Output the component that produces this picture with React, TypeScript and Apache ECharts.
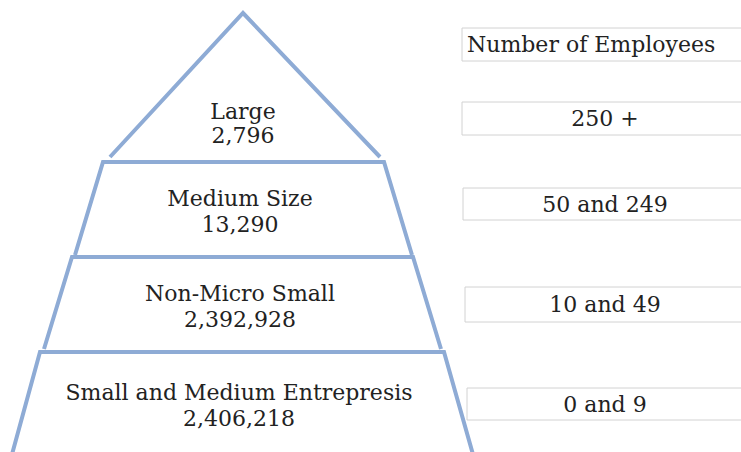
import React, { useEffect, useRef } from "react";
import * as echarts from "echarts";

// ---- data ----
const TIERS = ["Large", "Medium Size", "Non-Micro Small", "Small and Medium Entrepresis"];
const FIRM_COUNTS = [2796, 13290, 2392928, 2406218];
const RANGE_TITLE = "Number of Employees";
const EMPLOYEE_RANGES = ["250 +", "50 and 249", "10 and 49", "0 and 9"];

// ---- layout (units of the hidden 741 x 452 grid) ----
const W = 741;
const H = 452;
const TIER_OUTLINES = [
  [[110, 157], [243, 13], [380, 157]],
  [[75, 255], [103, 162], [384, 162], [412, 255]],
  [[44, 349], [72, 257], [413, 257], [441, 349]],
  [[11, 458], [40, 352], [444, 352], [474, 458]],
];
const TIER_LABEL_POS = [
  [243, 111, 135],
  [240, 198, 224],
  [240, 293, 319],
  [239, 392.5, 418],
];
const RANGE_BOXES = [
  [462, 102, 135],
  [463, 188, 220],
  [465, 287, 322],
  [467, 388, 420],
];
const RANGE_TEXT_X = 605;
const HEADER_BOX = [462, 28, 61];

const LINE = "#8eabd5";
const BOX_LINE = "#d2d2d2";
const TEXT = "#222";
const FAMILY = "DejaVu Serif";
const FS = 22;

function textEl(pt: number[], text: string, align: string = "center") {
  return {
    type: "text",
    x: pt[0],
    y: pt[1],
    style: {
      text,
      align,
      verticalAlign: "middle",
      fontFamily: FAMILY,
      fontSize: FS,
      fill: TEXT,
    },
  };
}

export default function App() {
  const ref = useRef<HTMLDivElement>(null);

  useEffect(() => {
    if (!ref.current) return;
    const chart = echarts.init(ref.current, null, { renderer: "svg" });

    const option: any = {
      animation: false,
      backgroundColor: "#ffffff",
      grid: { left: 0, right: 0, top: 0, bottom: 0 },
      xAxis: { type: "value", min: 0, max: W, show: false },
      yAxis: { type: "value", min: 0, max: H, inverse: true, show: false },
      graphic: [
        {
          type: "rect",
          shape: { x: HEADER_BOX[0], y: HEADER_BOX[1], width: W - HEADER_BOX[0] + 10, height: HEADER_BOX[2] - HEADER_BOX[1] },
          style: { fill: "#fff", stroke: BOX_LINE, lineWidth: 1 },
        },
        {
          type: "text",
          x: HEADER_BOX[0] + 5,
          y: (HEADER_BOX[1] + HEADER_BOX[2]) / 2,
          style: {
            text: RANGE_TITLE,
            align: "left",
            verticalAlign: "middle",
            fontFamily: FAMILY,
            fontSize: FS,
            fill: TEXT,
          },
        },
      ],
      series: [
        {
          type: "custom",
          name: "tiers",
          data: FIRM_COUNTS.map((c, i) => ({ name: TIERS[i], value: [i, i] })),
          encode: { x: 0, y: 1 },
          renderItem: (params: any, api: any) => {
            const i = params.dataIndex;
            const pts = TIER_OUTLINES[i].map((p) => api.coord(p));
            const [cx, y1, y2] = TIER_LABEL_POS[i];
            return {
              type: "group",
              children: [
                {
                  type: "polyline",
                  shape: { points: pts },
                  style: { stroke: LINE, lineWidth: 4, fill: null, lineJoin: "miter" },
                },
                textEl(api.coord([cx, y1]), TIERS[i]),
                textEl(api.coord([cx, y2]), FIRM_COUNTS[i].toLocaleString("en-US")),
              ],
            };
          },
        },
        {
          type: "custom",
          name: "ranges",
          data: EMPLOYEE_RANGES.map((r, i) => ({ name: r, value: [i, i] })),
          encode: { x: 0, y: 1 },
          renderItem: (params: any, api: any) => {
            const i = params.dataIndex;
            const [bx, top, bottom] = RANGE_BOXES[i];
            const p0 = api.coord([bx, top]);
            const p1 = api.coord([W + 10, bottom]);
            const mid = api.coord([RANGE_TEXT_X, (top + bottom) / 2]);
            return {
              type: "group",
              children: [
                {
                  type: "rect",
                  shape: { x: p0[0], y: p0[1], width: p1[0] - p0[0], height: p1[1] - p0[1] },
                  style: { fill: "#fff", stroke: BOX_LINE, lineWidth: 1 },
                },
                textEl(mid, EMPLOYEE_RANGES[i]),
              ],
            };
          },
        },
      ],
    };

    chart.setOption(option);
    return () => chart.dispose();
  }, []);

  return (
    <div
      ref={ref}
      style={{ position: "fixed", left: 0, top: 0, width: W, height: H, background: "#fff" }}
    />
  );
}
